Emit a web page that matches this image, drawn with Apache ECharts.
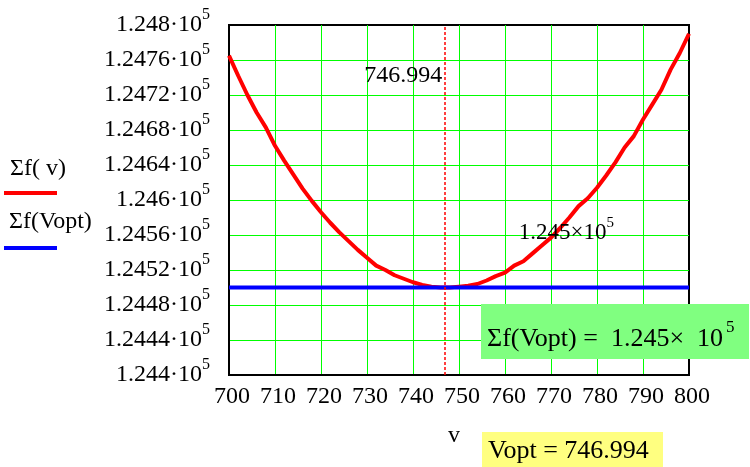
<!DOCTYPE html>
<html>
<head>
<meta charset="utf-8">
<script src="https://cdn.jsdelivr.net/npm/echarts@6/dist/echarts.min.js"></script>
<style>
  html, body { margin: 0; padding: 0; background: #fff; }
  #main { width: 750px; height: 467px; }
</style>
</head>
<body>
<div id="main"></div>
<script>
// speed values v and the summed function Σf(v)
const vValues = [700, 702, 704, 706, 708, 710, 712, 714, 716, 718, 720, 722, 724, 726, 728, 730,
  732, 734, 736, 738, 740, 742, 744, 746, 748, 750, 752, 754, 756, 758, 760, 762, 764, 766, 768,
  770, 772, 774, 776, 778, 780, 782, 784, 786, 788, 790, 792, 794, 796, 798, 800];
const fValues = [124765, 124742, 124720, 124700, 124683, 124662, 124645, 124629, 124613, 124599,
  124586, 124574, 124563, 124553, 124543, 124534, 124525, 124520, 124514, 124510, 124506, 124503,
  124501, 124500, 124500, 124501, 124502, 124504, 124508, 124513, 124517, 124525, 124530, 124539,
  124548, 124557, 124568, 124580, 124593, 124602, 124614, 124628, 124643, 124660, 124673, 124692,
  124709, 124726, 124749, 124768, 124790];

// optimum
const vOpt = 746.994;
const fOpt = 124500;
const optX = [700, 800];

const yTickLabels = ['1.244', '1.2444', '1.2448', '1.2452', '1.2456', '1.246', '1.2464',
  '1.2468', '1.2472', '1.2476', '1.248'];

const SERIF = '"Liberation Serif", "Times New Roman", serif';
const GREEN = '#00ff00';

const chart = echarts.init(document.getElementById('main'));

chart.setOption({
  animation: false,
  backgroundColor: '#fff',
  grid: {
    left: 229, right: 61, top: 25, bottom: 92,
    show: true, borderColor: '#000', borderWidth: 2, backgroundColor: 'transparent'
  },
  xAxis: {
    type: 'value',
    min: 700, max: 800, interval: 10,
    name: 'v',
    nameLocation: 'middle',
    nameGap: 49,
    nameTextStyle: { fontFamily: SERIF, fontSize: 24, color: '#000', padding: [0, 10, 0, 0] },
    axisLine: { show: true, lineStyle: { color: '#000', width: 2 } },
    axisTick: { show: false },
    axisLabel: { fontFamily: SERIF, fontSize: 24, color: '#000', margin: 10, padding: [0, 0, 0, 6] },
    splitLine: {
      show: true, showMinLine: false, showMaxLine: false,
      lineStyle: { color: GREEN, width: 1, opacity: 1, type: 'solid' }
    }
  },
  yAxis: {
    type: 'value',
    min: 124400, max: 124800, interval: 40,
    axisLine: { show: true, lineStyle: { color: '#000', width: 2 } },
    axisTick: { show: false },
    axisLabel: {
      margin: 19,
      formatter: function (val, idx) { return '{a|' + yTickLabels[idx] + '·10}{s|5}'; },
      rich: {
        a: { fontFamily: SERIF, fontSize: 24, color: '#000' },
        s: { fontFamily: SERIF, fontSize: 16, color: '#000', padding: [0, 0, 20, 0] }
      }
    },
    splitLine: {
      show: true, showMinLine: false, showMaxLine: false,
      lineStyle: { color: GREEN, width: 1, opacity: 1, type: 'solid' }
    }
  },
  series: [
    {
      name: 'Σf(v)',
      type: 'line',
      data: vValues.map((v, i) => [v, fValues[i]]),
      showSymbol: false,
      lineStyle: { color: '#ff0000', width: 4 },
      itemStyle: { color: '#ff0000' },
      markLine: {
        silent: true,
        symbol: 'none',
        label: { show: false },
        lineStyle: { color: '#ff0000', width: 1.5, type: [3, 2], opacity: 1 },
        data: [{ xAxis: vOpt }]
      },
      markPoint: {
        symbolSize: 0,
        data: [{
          coord: [vOpt, 124742],
          label: {
            show: true, position: 'left', distance: 3,
            formatter: String(vOpt),
            fontFamily: SERIF, fontSize: 24, color: '#000'
          }
        }]
      }
    },
    {
      name: 'Σf(Vopt)',
      type: 'line',
      data: optX.map(v => [v, fOpt]),
      showSymbol: false,
      lineStyle: { color: '#0000ff', width: 4 },
      itemStyle: { color: '#0000ff' },
      markPoint: {
        symbolSize: 0,
        data: [{
          coord: [763, 124562],
          label: {
            show: true, position: 'right', distance: 0,
            formatter: '{a|1.245×10}{s|5}',
            rich: {
              a: { fontFamily: SERIF, fontSize: 23, color: '#000' },
              s: { fontFamily: SERIF, fontSize: 15, color: '#000', padding: [0, 0, 20, 0] }
            }
          }
        }]
      }
    }
  ],
  graphic: [
    // legend
    { type: 'text', left: 10, top: 157, style: { text: 'Σf( v)', font: '24px ' + SERIF, fill: '#000' } },
    { type: 'line', shape: { x1: 4, y1: 193, x2: 57, y2: 193 }, style: { stroke: '#ff0000', lineWidth: 4 } },
    { type: 'text', left: 9, top: 210, style: { text: 'Σf(Vopt)', font: '24px ' + SERIF, fill: '#000' } },
    { type: 'line', shape: { x1: 4, y1: 248, x2: 57, y2: 248 }, style: { stroke: '#0000ff', lineWidth: 4 } },
    // result boxes
    { type: 'rect', z: 10, shape: { x: 481, y: 304, width: 268, height: 55 }, style: { fill: '#80ff80' } },
    {
      type: 'text', z: 11, x: 487, y: 339,
      style: {
        text: '{a|Σf(Vopt) =  1.245×  10}{s|5}',
        verticalAlign: 'middle',
        rich: {
          a: { fontFamily: SERIF, fontSize: 26, fill: '#000' },
          s: { fontFamily: SERIF, fontSize: 17, fill: '#000', padding: [0, 0, 22, 3] }
        }
      }
    },
    { type: 'rect', z: 10, shape: { x: 482, y: 432, width: 181, height: 35 }, style: { fill: '#ffff80' } },
    {
      type: 'text', z: 11, x: 488, y: 451,
      style: { text: 'Vopt = 746.994', font: '26px ' + SERIF, fill: '#000', verticalAlign: 'middle' }
    }
  ]
});
</script>
</body>
</html>
